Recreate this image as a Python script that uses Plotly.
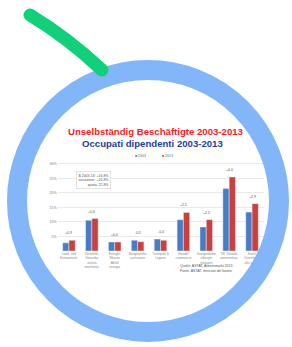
import plotly.graph_objects as go

# ---- data ----
categories = [
    "Land- und<br>Forstwirtsch.",
    "Verarbeit.<br>Gewerbe<br>attività<br>manifattur.",
    "Energie,<br>Wasser<br>Abfall<br>energia",
    "Baugewerbe<br>costruzioni",
    "Transport &<br>Lagerei",
    "Handel<br>commercio",
    "Gastgewerbe<br>alberghi<br>ristoranti",
    "Öff. Verwalt.<br>amministraz.",
    "Sonst.<br>Dienstleist.<br>altri servizi",
]
values_2003 = [2.8, 10.6, 3.1, 3.7, 4.1, 10.8, 8.3, 21.5, 13.4]
values_2013 = [3.7, 11.2, 3.1, 3.2, 3.7, 13.3, 10.8, 25.5, 16.3]
series_names = ["2003", "2013"]
tick_vals = [5, 10, 15, 20, 25, 30]
tick_text = ["5%", "10%", "15%", "20%", "25%", "30%"]

W, H = 292, 347
BLUE = "#4a7cc4"
RED = "#c8413f"
GREEN = "#12d07a"


def fx(p):
    return p / W


def fy(p):
    return 1 - p / H


fig = go.Figure()
fig.add_trace(go.Bar(x=categories, y=values_2003, name=series_names[0],
                     marker_color=BLUE, showlegend=False))
fig.add_trace(go.Bar(x=categories, y=values_2013, name=series_names[1],
                     marker_color=RED, showlegend=False))

annotations = []
for c, a, b in zip(categories, values_2003, values_2013):
    d = b - a
    annotations.append(dict(x=c, y=max(a, b) + 1.0, xref="x", yref="y",
                            text=("+" if d >= 0 else "") + f"{d:.1f}".replace(".", ","),
                            showarrow=False, font=dict(size=3.5, color="#555"),
                            yanchor="bottom"))


def pa(x, y, text, **kw):
    d = dict(x=fx(x), y=fy(y), xref="paper", yref="paper", text=text, showarrow=False)
    d.update(kw)
    return d


annotations += [
    pa(155.5, 131, "<b>Unselbständig Beschäftigte 2003-2013</b>",
       font=dict(family="Liberation Sans", size=9.6, color="#f01e28")),
    pa(152.5, 143.5, "<b>Occupati dipendenti 2003-2013</b>",
       font=dict(family="Liberation Sans", size=9.6, color="#24409a")),
    pa(133, 156, f"<span style='color:{BLUE}'>■</span> {series_names[0]}",
       font=dict(size=3.5, color="#666"), xanchor="left"),
    pa(160, 156, f"<span style='color:{RED}'>■</span> {series_names[1]}",
       font=dict(size=3.5, color="#666"), xanchor="left"),
    pa(111, 180, "Δ 2003-13: +16,8%<br>variazione: +16,8%<br>quota: 22,8%",
       align="right", xanchor="right", font=dict(size=3.5, color="#555"),
       bordercolor="#cfcfcf", borderwidth=0.6, borderpad=2, bgcolor="white"),
    pa(178, 274.5, "Quelle: ASTAT, Arbeitsmarkt 2013<br>Fonte: ASTAT, mercato del lavoro",
       align="left", xanchor="left", font=dict(size=3.5, color="#555")),
]

cx, cy, r = 148, 201, 131
shapes = [
    dict(type="circle", xref="paper", yref="paper", x0=fx(cx - r), x1=fx(cx + r),
         y0=fy(cy + r), y1=fy(cy - r), line=dict(color="#82b6f8", width=20), layer="above"),
    dict(type="path", xref="paper", yref="paper",
         path=f"M {fx(30)} {fy(15)} Q {fx(68)} {fy(38)} {fx(102)} {fy(70)}",
         line=dict(color=GREEN, width=13), layer="above"),
    dict(type="circle", xref="paper", yref="paper", x0=fx(23.5), x1=fx(36.5), y0=fy(21.5), y1=fy(8.5),
         fillcolor=GREEN, line=dict(width=0), layer="above"),
    dict(type="circle", xref="paper", yref="paper", x0=fx(95.5), x1=fx(108.5), y0=fy(76.5), y1=fy(63.5),
         fillcolor=GREEN, line=dict(width=0), layer="above"),
]

fig.update_layout(
    width=W, height=H, margin=dict(l=0, r=0, t=0, b=0),
    paper_bgcolor="white", plot_bgcolor="white",
    barmode="group", bargap=0.45, bargroupgap=0.0,
    font=dict(family="Liberation Sans"),
    xaxis=dict(domain=[fx(57.5), fx(263.5)], tickfont=dict(size=3.2, color="#888"),
               showline=False, ticks="", tickangle=0, fixedrange=True),
    yaxis=dict(domain=[fy(251), fy(161)], range=[0, 31],
               tickvals=tick_vals, ticktext=tick_text, tickfont=dict(size=3.5, color="#777"),
               gridcolor="#e3e3e3", gridwidth=0.8, zeroline=False, showline=False, fixedrange=True),
    annotations=annotations, shapes=shapes,
)

fig.write_html("out.html", config={"displayModeBar": False, "staticPlot": True},
               post_script="document.body.style.margin='0';document.body.style.overflow='hidden';")
